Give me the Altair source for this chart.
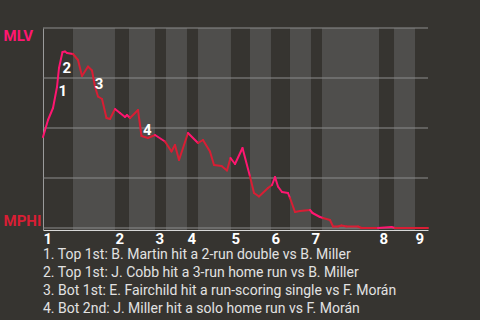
import altair as alt
import pandas as pd

# ---- data (x = play index, y = MLV win probability) ----
play = [0, 1.43, 2.86, 4, 4.57, 5.57, 6.29, 6.86, 8.57, 10, 11.14, 12.86, 14, 14.86, 15.71,
        16.86, 18.14, 19.14, 20.57, 22, 23.43, 24, 24.86, 27.14, 28.14, 30, 32, 34.86, 36.71,
        37.71, 38.86, 41.43, 44.29, 45.71, 47.71, 48.86, 51, 52.57, 53.57, 54.86, 57, 59.14,
        60.29, 61.71, 64.29, 65.43, 66.29, 67.14, 68.29, 70, 70.57, 72, 73.43, 76.29, 77,
        79.14, 80, 82, 82.86, 84.29, 85.29, 86.71, 90, 91, 95.71, 99.57, 100.57, 110]
wp = [0.455, 0.54, 0.60, 0.705, 0.80, 0.88, 0.8825, 0.875, 0.87, 0.84, 0.76, 0.8075, 0.7875,
      0.7075, 0.6575, 0.645, 0.55, 0.545, 0.595, 0.575, 0.555, 0.565, 0.55, 0.59, 0.46, 0.45,
      0.465, 0.4325, 0.3825, 0.415, 0.34, 0.475, 0.425, 0.44, 0.3825, 0.315, 0.31, 0.2875,
      0.35, 0.32, 0.40, 0.2575, 0.175, 0.1575, 0.20, 0.215, 0.255, 0.2075, 0.18, 0.175, 0.15,
      0.08, 0.085, 0.09, 0.075, 0.055, 0.05, 0.04, 0.0075, 0.0075, 0.0125, 0.0075, 0.0075,
      0.0, 0.0, 0.005, 0.0, 0.0]

half_start = [0, 8.57, 20.57, 24.57, 32, 35.14, 41.14, 44.29, 53.71, 59.14, 65.14, 70.57,
              76.57, 79.71, 96, 100.29, 106.29]
x_max = 110
inning_start = [0, 20.57, 32, 41.14, 53.71, 65.14, 76.57, 96, 106.29]

note_num = ["1", "2", "3", "4"]
note_x = [5.63, 6.77, 16, 29.8]
note_y = [0.6865, 0.80, 0.72, 0.49]

notes = [
    "1. Top 1st: B. Martin hit a 2-run double vs B. Miller",
    "2. Top 1st: J. Cobb hit a 3-run home run vs B. Miller",
    "3. Bot 1st: E. Fairchild hit a run-scoring single vs F. Morán",
    "4. Bot 2nd: J. Miller hit a solo home run vs F. Morán",
]

teams = ["MLV", "MPHI"]
team_colors = ["#ff1670", "#d81e34"]
grid_vals = [0, 0.25, 0.5, 0.75, 1]

# ---- derived tables ----
half_end = half_start[1:] + [x_max]
bands = pd.DataFrame({"start": half_start, "end": half_end,
                      "half": ["top" if i % 2 == 0 else "bot" for i in range(len(half_start))]})
bands_bot = bands[bands["half"] == "bot"]


def team_of(x):
    idx = 0
    for i, s in enumerate(half_start):
        if x >= s:
            idx = i
    return "MLV" if idx % 2 == 0 else "MPHI"


segs = pd.DataFrame({
    "x": play[:-1], "x2": play[1:], "y": wp[:-1], "y2": wp[1:],
    "team": [team_of((play[i] + play[i + 1]) / 2) for i in range(len(play) - 1)],
})
grid_df = pd.DataFrame({"v": grid_vals})
notes_df = pd.DataFrame({"n": note_num, "x": note_x, "y": note_y})

xs = alt.Scale(domain=[0, x_max], nice=False, zero=False)
ys = alt.Scale(domain=[-0.01, 1], nice=False, zero=False)

x_axis = alt.Axis(values=inning_start, labelExpr=f"indexof({inning_start}, datum.value) + 1",
                  ticks=False, grid=False, title=None, domainColor="#d8d8d8",
                  labelFont="Roboto", labelFontWeight="bold", labelFontSize=15,
                  labelColor="#ffffff", labelAlign="left", labelPadding=1, labelFlush=False,
                  labelOverlap=False)
y_axis = alt.Axis(values=[0, 1], labelExpr="datum.value == 1 ? 'MLV' : 'MPHI'",
                  ticks=False, grid=False, title=None, domainColor="#9a9a9a",
                  labelFont="Roboto", labelFontWeight="bold", labelFontSize=15,
                  labelColor={"condition": {"test": "datum.value == 1", "value": "#ff1670"},
                              "value": "#d81e34"},
                  labelBaseline={"condition": {"test": "datum.value == 1", "value": "top"},
                                 "value": "bottom"},
                  labelAlign="left", labelPadding=40, labelFlush=False)

band_layer = alt.Chart(bands_bot).mark_rect(color="#4f4e4c").encode(
    x=alt.X("start:Q", scale=xs, axis=x_axis), x2="end:Q")
grid_layer = alt.Chart(grid_df).mark_rule(color="#8c8c8c", strokeWidth=1).encode(
    y=alt.Y("v:Q", scale=ys, axis=y_axis))
line_layer = alt.Chart(segs).mark_rule(strokeWidth=2, strokeCap="round").encode(
    x=alt.X("x:Q", scale=xs), x2="x2:Q",
    y=alt.Y("y:Q", scale=ys), y2="y2:Q",
    color=alt.Color("team:N", scale=alt.Scale(domain=teams, range=team_colors), legend=None))
note_layer = alt.Chart(notes_df).mark_text(font="Roboto", fontWeight="bold", fontSize=15,
                                           color="#ffffff").encode(
    x=alt.X("x:Q", scale=xs), y=alt.Y("y:Q", scale=ys), text="n:N")

chart = alt.layer(band_layer, grid_layer, line_layer, note_layer).properties(
    width=385, height=202,
    autosize=alt.AutoSizeParams(type="none"),
    padding={"left": 43, "top": 28, "right": 52, "bottom": 90},
    background="#363430",
    title=alt.TitleParams(text=notes, orient="bottom", anchor="start", frame="group",
                          font="Roboto", fontSize=14, fontWeight="normal", color="#e2e2e2",
                          lineHeight=18, offset=2),
).configure_view(stroke=None)

chart.save("out.html", embed_options={"renderer": "svg", "actions": False})
